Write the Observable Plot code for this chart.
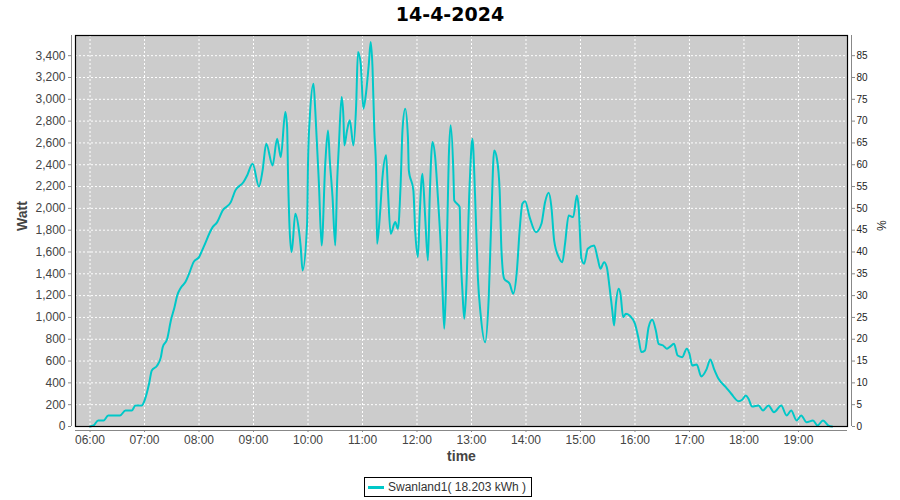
<!DOCTYPE html>
<html>
<head>
<meta charset="utf-8">
<script src="https://cdn.jsdelivr.net/npm/d3@7"></script>
<script src="https://cdn.jsdelivr.net/npm/@observablehq/plot@0.6"></script>
<style>
  html, body { margin: 0; padding: 0; background: #fff; }
  #wrap { width: 900px; height: 500px; position: relative; font-family: "Liberation Sans", Arial, sans-serif; }
  #title { height: 30px; line-height: 28px; text-align: center; font-family: "DejaVu Sans", sans-serif; font-weight: bold; font-size: 19px; color: #000; }
  #legend { position: absolute; left: 364px; top: 477px; height: 20px; border: 1px solid #000; box-sizing: border-box; padding: 0 5px 0 3px; display: flex; align-items: center; font-size: 12px; color: #333; background: #fff; }
  #legend .sw { width: 16px; height: 3px; background: #00c8c8; margin-right: 4px; }
  svg { display: block; }
</style>
</head>
<body>
<div id="wrap">
  <div id="title">14-4-2024</div>
  <div id="chart"></div>
  <div id="legend"><span class="sw"></span><span>Swanland1( 18.203 kWh )</span></div>
</div>
<script>
const seriesName = "Swanland1( 18.203 kWh )";
const times = ["06:00","06:04","06:09","06:15","06:20","06:33","06:39","06:46","06:50","06:57",
"07:00","07:05","07:08","07:14","07:18","07:20","07:25","07:29","07:33","07:36","07:40","07:45","07:49","07:54",
"08:00","08:05","08:15","08:20","08:26","08:35","08:40","08:49","08:53","08:59",
"09:06","09:10","09:14","09:21","09:26","09:30","09:35","09:37","09:38","09:40","09:42","09:46","09:50","09:52","09:54","09:59",
"10:00","10:02","10:06","10:08","10:12","10:15","10:19","10:22","10:24","10:27","10:30","10:32","10:34","10:37","10:39","10:40","10:43","10:46","10:50","10:53","10:55","10:58",
"11:01","11:04","11:07","11:09","11:11","11:13","11:15","11:16","11:19","11:22","11:26","11:28","11:31","11:36","11:39","11:42","11:44","11:47","11:50","11:51","11:56","11:58",
"12:01","12:03","12:06","12:09","12:12","12:14","12:17","12:20","12:23","12:26","12:28","12:30","12:32","12:35","12:37","12:40","12:41","12:44","12:47","12:48","12:50","12:52","12:54","12:58",
"13:01","13:04","13:07","13:10","13:15","13:19","13:22","13:25","13:28","13:31","13:33","13:36","13:42","13:46","13:50","13:53","13:56","13:59",
"14:04","14:11","14:17","14:21","14:25","14:28","14:31","14:36","14:40","14:43","14:47","14:52","14:56","14:58",
"15:01","15:04","15:08","15:15","15:19","15:22","15:26","15:29","15:32","15:35","15:37","15:39","15:42","15:44","15:47","15:50","15:54",
"16:00","16:04","16:07","16:11","16:15","16:19","16:23","16:26","16:31","16:35","16:38","16:43","16:47","16:52","16:57",
"17:00","17:03","17:08","17:13","17:19","17:23","17:27","17:32","17:40","17:46","17:54","17:58",
"18:02","18:05","18:09","18:16","18:21","18:27","18:33","18:41","18:47","18:52","18:58",
"19:03","19:09","19:16","19:21","19:27","19:33","19:37"];
const watts = [0,10,55,55,100,100,147,147,193,193,
238,392,514,560,636,727,804,972,1094,1201,1272,1324,1400,1507,
1553,1645,1828,1874,1981,2057,2165,2241,2302,2409,
2201,2348,2593,2394,2639,2470,2883,2745,2318,1767,1599,1951,1798,1645,1431,1859,
2409,2837,3143,2898,2226,1660,2409,2715,2440,2103,1660,2226,2577,3020,2837,2577,2715,2807,2577,2944,3433,3327,
2914,3066,3327,3525,3296,2715,2333,1676,1920,2287,2486,2165,1767,1874,1813,2226,2715,2914,2654,2348,2165,1798,
1553,1951,2318,1920,1523,2103,2608,2470,2103,1676,1278,896,1309,2470,2761,2348,2073,2043,2012,1614,1247,988,1217,2226,
2639,2103,1370,1034,773,1186,1951,2531,2455,2165,1614,1355,1309,1217,1431,1798,2043,2066,
1920,1782,1859,2057,2143,2012,1706,1553,1507,1676,1935,1920,2119,2012,
1540,1492,1630,1660,1538,1446,1507,1461,1278,1064,926,1125,1263,1217,1003,1034,1018,
942,804,682,697,911,979,880,758,743,713,727,758,651,636,713,
667,560,569,459,529,615,529,437,361,300,232,245,
284,254,183,193,147,193,131,193,101,147,55,
101,39,55,9,55,9,0];
const hourTicks = ["06:00","07:00","08:00","09:00","10:00","11:00","12:00","13:00","14:00","15:00","16:00","17:00","18:00","19:00"];
const wattTicks = [0,200,400,600,800,1000,1200,1400,1600,1800,2000,2200,2400,2600,2800,3000,3200,3400];
const pctTicks = [0,5,10,15,20,25,30,35,40,45,50,55,60,65,70,75,80,85];

const toDate = s => { const [h, m] = s.split(":").map(Number); return new Date(Date.UTC(2024, 3, 14, h, m)); };
const data = times.map((t, i) => ({time: toDate(t), watt: watts[i]}));
const xTicks = hourTicks.map(toDate);
const xMin = new Date(Date.UTC(2024, 3, 14, 5, 44));
const xMax = new Date(Date.UTC(2024, 3, 14, 19, 54));
const wattPerPct = 3400 / 85;

const chart = Plot.plot({
  width: 900,
  height: 442,
  marginLeft: 75,
  marginRight: 53,
  marginTop: 5,
  marginBottom: 46,
  style: {fontFamily: "'Liberation Sans', Arial, sans-serif", fontSize: "12px", background: "transparent"},
  x: {type: "utc", domain: [xMin, xMax], label: null},
  y: {domain: [0, 3585], label: null},
  marks: [
    Plot.frame({fill: "#cccccc", stroke: null}),
    Plot.gridX(xTicks, {stroke: "#ffffff", strokeOpacity: 1, strokeDasharray: "2,2"}),
    Plot.gridY(wattTicks, {stroke: "#ffffff", strokeOpacity: 1, strokeDasharray: "2,2"}),
    Plot.line(data, {x: "time", y: "watt", stroke: "#00c8c8", strokeWidth: 2, curve: "monotone-x"}),
    Plot.frame({stroke: "#000000", strokeWidth: 1.2}),
    Plot.ruleX([xMin], {dx: -4, stroke: "#888888"}),
    Plot.ruleX([xMax], {dx: 4, stroke: "#888888"}),
    Plot.ruleY([0], {dy: 4, stroke: "#888888"}),
    Plot.axisY(wattTicks, {anchor: "left", label: null, tickFormat: d3.format(","), tickSize: 3, tickPadding: 3, dx: -4, stroke: "#888888", fill: "#444444", fontSize: 12}),
    Plot.axisY(wattTicks, {anchor: "right", label: null, tickFormat: d => String(d / wattPerPct), tickSize: 3, tickPadding: 2, dx: 4, stroke: "#888888", fill: "#222222", fontSize: 10}),
    Plot.axisX(xTicks, {anchor: "bottom", label: null, tickFormat: d3.utcFormat("%H:%M"), tickSize: 2, tickPadding: 3, dy: 4, stroke: "#888888", fill: "#444444", fontSize: 12}),
    Plot.text(["Watt"], {frameAnchor: "left", dx: -53, rotate: -90, fontWeight: "bold", fontSize: 14, fill: "#444444"}),
    Plot.text(["time"], {frameAnchor: "bottom", dy: 34, fontWeight: "bold", fontSize: 14, fill: "#444444"}),
    Plot.text(["%"], {frameAnchor: "right", dx: 33, rotate: 90, fontSize: 12, fill: "#222222"})
  ]
});
document.getElementById("chart").appendChild(chart);
</script>
</body>
</html>
